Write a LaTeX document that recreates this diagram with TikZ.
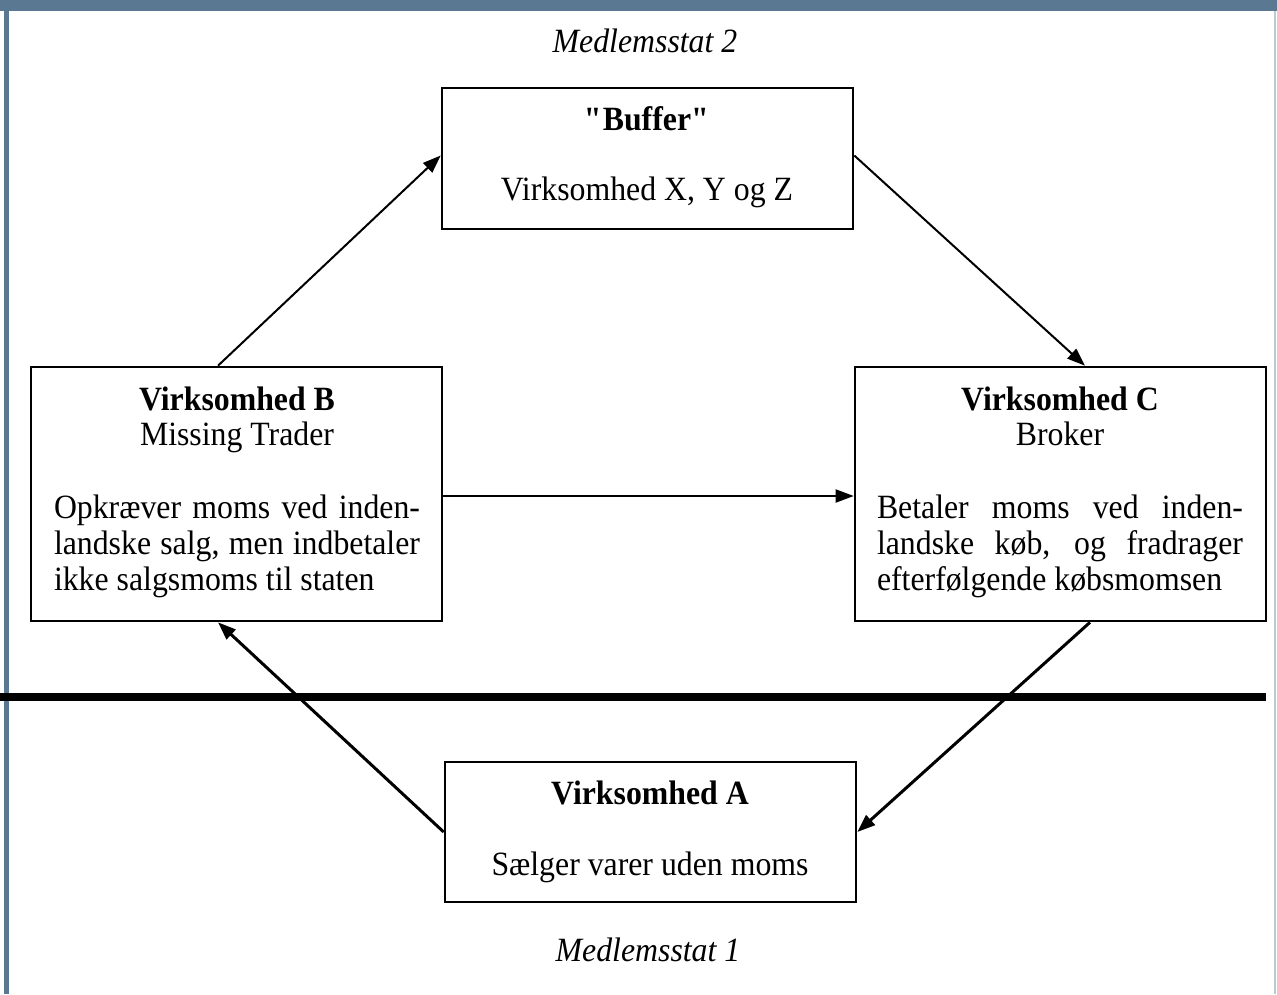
\documentclass[tikz,border=0pt]{standalone}
\usepackage{fontspec}
\setmainfont[FakeStretch=0.935]{Liberation Serif}
\usetikzlibrary{arrows.meta}
\definecolor{framebl}{RGB}{90,120,145}
\tikzset{
  box/.style={draw=black, line width=2.6pt, fill=none, inner sep=0pt},
  conn/.style={draw=black, line width=2pt, -{Triangle[length=18pt,width=13pt]}},
  thickconn/.style={conn, line width=3pt},
  txt/.style={anchor=base, inner sep=0pt, font=\fontsize{34}{36}\selectfont},
  btxt/.style={txt, font=\fontsize{34}{36}\selectfont\bfseries},
  itxt/.style={txt, font=\fontsize{34}{36}\selectfont\itshape},
}
\newcommand{\jline}[1]{\makebox[366pt][s]{#1}}
\newcommand{\lline}[1]{\makebox[366pt][l]{#1}}
\begin{document}
\begin{tikzpicture}[x=1pt,y=-1pt]
\useasboundingbox (0,0) rectangle (1277,994);
\fill[white] (0,0) rectangle (1277,994);
% frame
\fill[framebl] (0,0) rectangle (1277,11);
\fill[framebl] (4,11) rectangle (9,994);
\fill[framebl!40] (1274,11) rectangle (1276,994);
% thick divider
\fill[black] (0,693) rectangle (1266,701);
% boxes
\node[box, minimum width=411pt, minimum height=141pt] (buf) at (647.5,158.5) {};
\node[box, minimum width=411pt, minimum height=254pt] (b) at (236.5,494) {};
\node[box, minimum width=411pt, minimum height=254pt] (c) at (1060.5,494) {};
\node[box, minimum width=411pt, minimum height=140pt] (a) at (650.5,832) {};
% texts
\node[itxt] (m2) at (645,52) {Medlemsstat 2};
\node[itxt] (m1) at (648,961) {Medlemsstat 1};
\node[btxt] (buft) at (647,130) {\textquotedbl Buffer\textquotedbl};
\node[txt] (bufs) at (647,200) {Virksomhed X, Y og Z};
\node[btxt] (bt) at (237,410) {Virksomhed B};
\node[txt] (bs) at (237,445) {Missing Trader};
\node[txt] (b1) at (237,518) {\jline{Opkræver moms ved inden-}};
\node[txt] (b2) at (237,554) {\jline{landske salg, men indbetaler}};
\node[txt] (b3) at (237,590) {\lline{ikke salgsmoms til staten}};
\node[btxt] (ct) at (1060,410) {Virksomhed C};
\node[txt] (cs) at (1060,445) {Broker};
\node[txt] (c1) at (1060,518) {\jline{Betaler moms ved inden-}};
\node[txt] (c2) at (1060,554) {\jline{landske køb, og fradrager}};
\node[txt] (c3) at (1060,590) {\lline{efterfølgende købsmomsen}};
\node[btxt] (at) at (650,804) {Virksomhed A};
\node[txt] (as) at (650,875) {Sælger varer uden moms};
% connectors
\draw[conn] ([xshift=-18.5pt]b.north) -- ([yshift=3pt]buf.west);
\draw[conn] ([yshift=3pt]buf.east) -- ([xshift=24.5pt]c.north);
\draw[conn] ([yshift=-2pt]b.east) -- ([yshift=-2pt]c.west);
\draw[thickconn] ([xshift=29.5pt]c.south) -- (a.east);
\draw[thickconn] (a.west) -- ([xshift=-18.5pt]b.south);
\end{tikzpicture}
\end{document}
